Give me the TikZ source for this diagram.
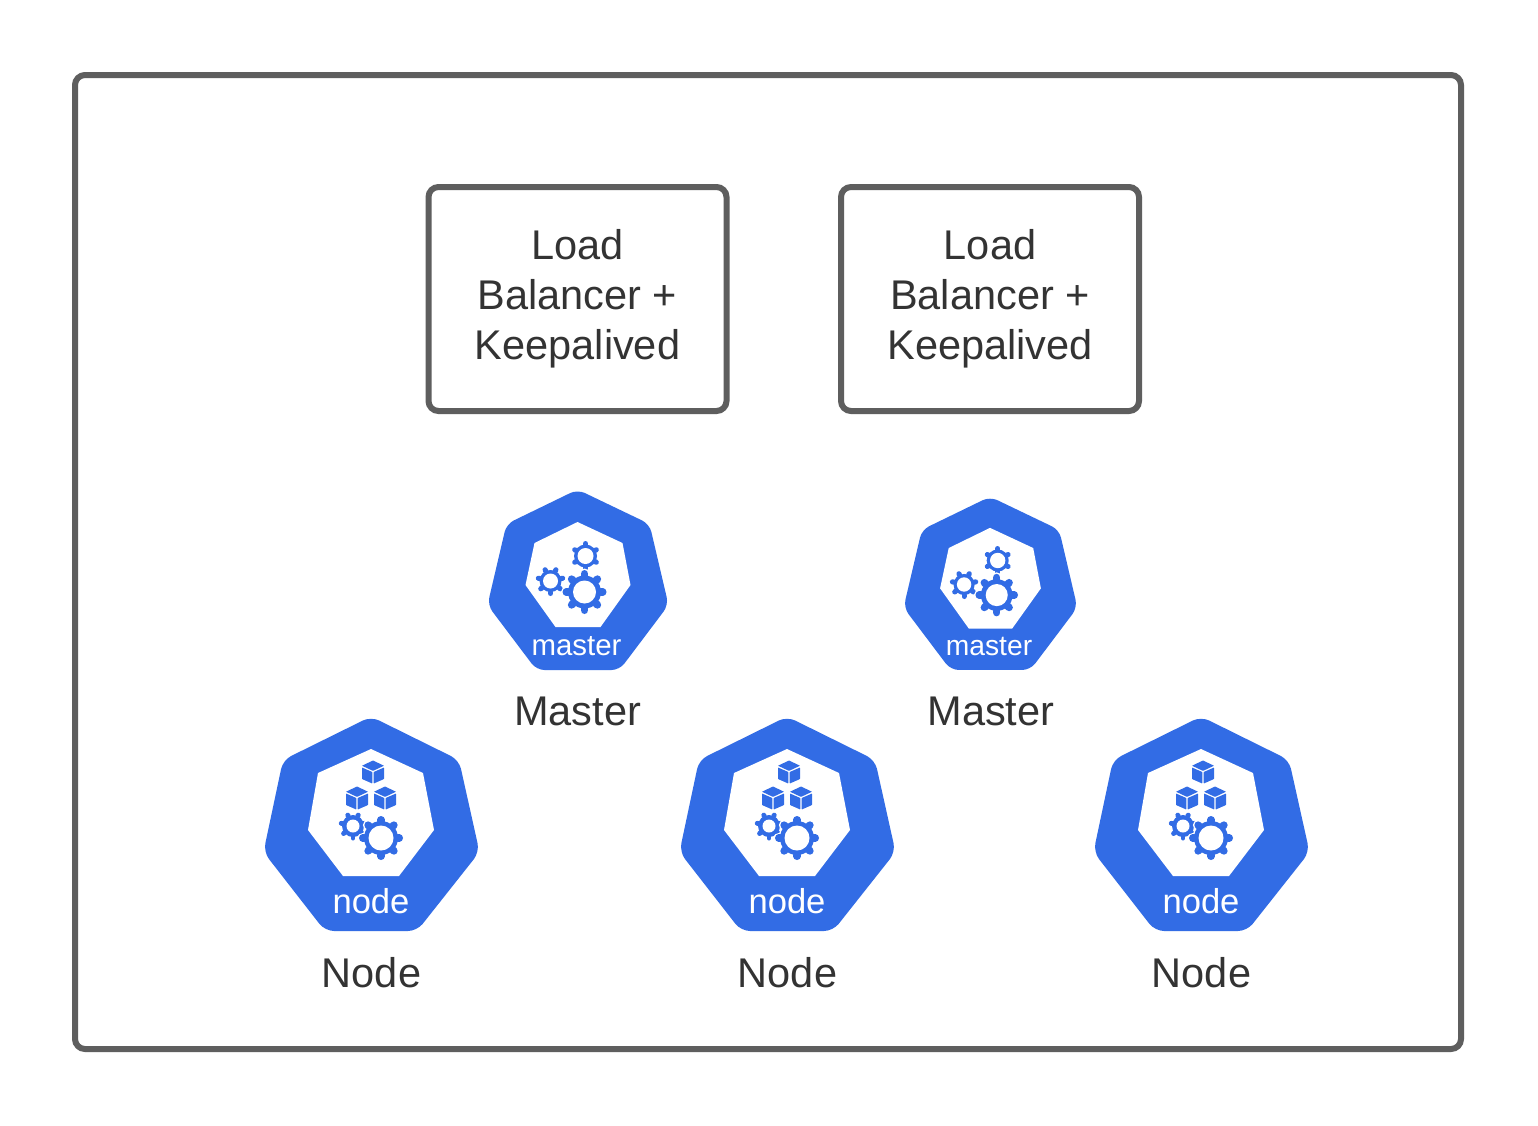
\documentclass[tikz,border=0pt]{standalone}
\usepackage{fontspec}
\setmainfont{Liberation Sans}
\usepackage{xcolor}
\usetikzlibrary{calc}
\definecolor{kubeblue}{HTML}{326CE5}
\definecolor{framegray}{HTML}{5E5E5E}
\definecolor{textgray}{HTML}{333333}
% gear: x, y, body radius, hole radius, outer radius, teeth, first angle
\newcommand{\kgear}[7]{
  \pgfmathsetmacro{\tw}{.34*#5}
  \pgfmathsetmacro{\tl}{#5-#3-.17*#5}
  \fill[white] (#1,#2) circle ({#3+1.5});
  \foreach \a [evaluate=\a as \t using #7+\a*360/#6] in {1,...,#6} {
    \draw[white, line width=\tw+3, line cap=round] (#1,#2)++(\t:#3)--++(\t:\tl);
  }
  \fill[kubeblue] (#1,#2) circle (#3);
  \foreach \a [evaluate=\a as \t using #7+\a*360/#6] in {1,...,#6} {
    \draw[kubeblue, line width=\tw, line cap=round] (#1,#2)++(\t:#3)--++(\t:\tl);
  }
  \fill[white] (#1,#2) circle (#4);
}
% cube: x, y
\newcommand{\kcube}[2]{
  \fill[kubeblue, rounded corners=.5] (#1,#2-11.5)--++(11,5.2)--++(-11,5.2)--++(-11,-5.2)--cycle;
  \fill[kubeblue, rounded corners=.5] (#1-11,#2-4.5)--++(10.3,4.5)--++(0,11.5)--++(-10.3,-4.5)--cycle;
  \fill[kubeblue, rounded corners=.5] (#1+11,#2-4.5)--++(-10.3,4.5)--++(0,11.5)--++(10.3,-4.5)--cycle;
}
\tikzset{
  frame/.style={draw=framegray, line width=6, rounded corners=10, fill=white},
  lbbox/.style={draw=framegray, line width=6, rounded corners=10, minimum width=298, minimum height=224,
    align=center, inner sep=0, text=textgray, font=\fontsize{41.5}{50}\selectfont},
  caption/.style={anchor=base, inner sep=0, text=textgray, font=\fontsize{41.5}{50}\selectfont},
  pics/mastericon/.style={code={
    \fill[kubeblue, rounded corners=8] (0,-91.5)--(72,-57)--(91,24)--(42,89)--(-41,89)--(-90,24)--(-71,-57)--cycle;
    \fill[white] (0,-59)--(45,-38)--(53,4)--(23,46)--(-22,46)--(-52,4)--(-43,-38)--cycle;
    \kgear{-27}{0}{11}{7.5}{15}{7}{90}
    \kgear{8}{-25}{11.5}{8}{15}{6}{90}
    \kgear{7}{11}{16.5}{11.5}{22}{8}{90}
    \node[transform shape, anchor=base, inner sep=0, text=white, font=\fontsize{29.4}{30}\selectfont] (label) at (-1,74) {master};
  }},
  pics/nodeicon/.style={code={
    \fill[kubeblue, rounded corners=9] (0,-107.5)--(88,-64)--(108.5,28)--(46,107)--(-46,107)--(-107.5,28)--(-88,-64)--cycle;
    \fill[white] (0,-75)--(52,-51)--(63,6)--(28,52)--(-28,52)--(-63,6)--(-53,-51)--cycle;
    \kcube{2}{-52}
    \kcube{-14}{-26}
    \kcube{14}{-26}
    \kgear{-18}{2}{11}{6.5}{14.5}{7}{90}
    \kgear{10}{14}{17}{12.5}{22}{8}{90}
    \node[transform shape, anchor=base, inner sep=0, text=white, font=\fontsize{34.6}{35}\selectfont] (label) at (0,89) {node};
  }},
}

\begin{document}
\begin{tikzpicture}[x=1pt, y=-1pt]
\useasboundingbox (0,0) rectangle (1538,1125);
\fill[white] (0,0) rectangle (1538,1125);
\draw[frame] (75,75) rectangle (1461,1049);
\node[lbbox] (lbleft) at (577.5,299) {Load\\Balancer +\\Keepalived};
\node[lbbox] (lbright) at (990,299) {Load\\Balancer +\\Keepalived};
% masters
\pic (ml) at (577.5,581) {mastericon};
\pic (mr) [scale=.96] at (990,584.5) {mastericon};
\node[caption] (mltext) at (577.5,725) {Master};
\node[caption] (mrtext) at (991,725) {Master};
% nodes
\foreach \x/\n in {371/a,787/b,1201/c} {
  \pic (n\n) at (\x,824) {nodeicon};
  \node[caption] (n\n text) at (\x+.5,987) {Node};
}
\end{tikzpicture}
\end{document}
